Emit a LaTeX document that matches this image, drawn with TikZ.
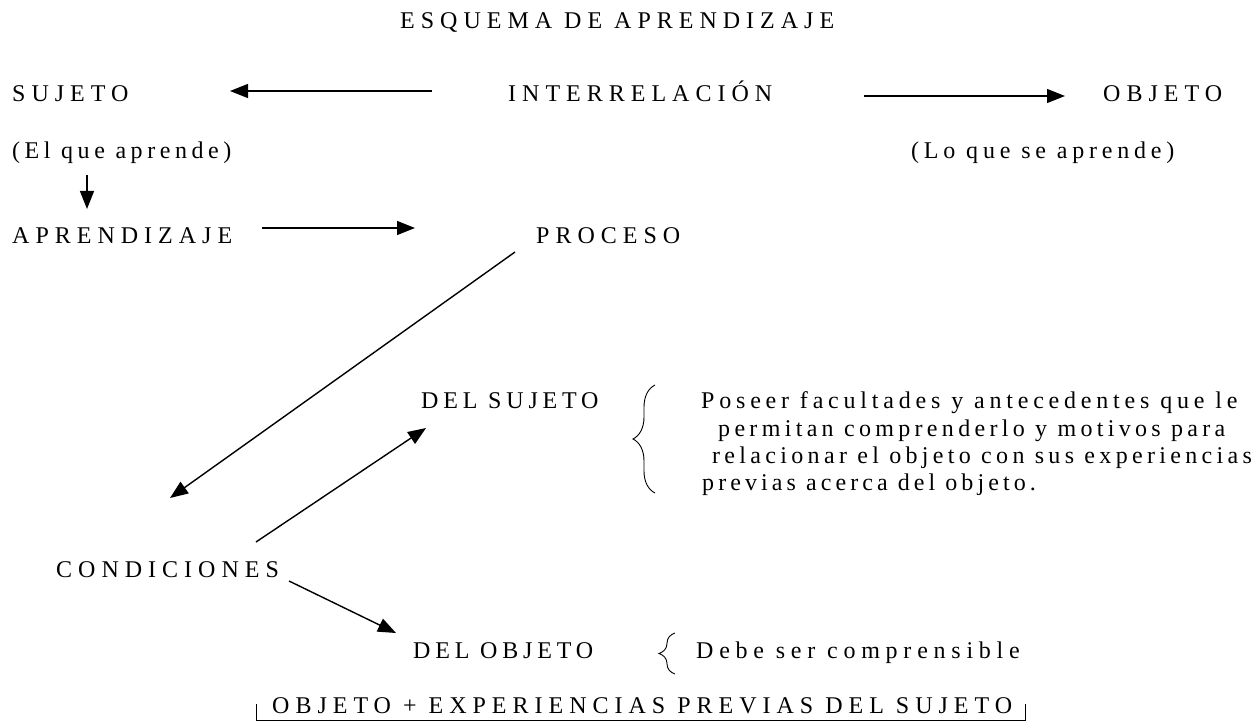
\documentclass[tikz,border=0pt]{standalone}
\usepackage{fontspec}
\setmainfont{Liberation Serif}
\usetikzlibrary{arrows.meta,decorations.pathreplacing}

\begin{document}
\begin{tikzpicture}[x=1pt,y=-1pt,
  etiq/.style={inner sep=0pt, anchor=base west, font=\fontsize{24}{28}\selectfont\addfontfeature{LetterSpace=#1}},
  etiq/.default=25,
  flecha/.style={line width=1.4pt, -{Triangle[length=18pt,width=14pt]}},
  llave/.style={decorate, decoration={brace, amplitude=#1}, line width=0.9pt}]
  \fill[white] (0,0) rectangle (1260,722);
  \useasboundingbox (0,0) rectangle (1260,722);
  % textos (posiciones absolutas, linea base)
  \node[etiq] (titulo) at (400,29) {ESQUEMA DE APRENDIZAJE};
  \node[etiq] (sujeto) at (12,102) {SUJETO};
  \node[etiq] (inter) at (508,102) {INTERRELACIÓN};
  \node[etiq] (objeto) at (1103,102) {OBJETO};
  \node[etiq=19] (elque) at (12,159) {(El que aprende)};
  \node[etiq=20] (loque) at (911,159) {(Lo que se aprende)};
  \node[etiq] (aprend) at (12,243) {APRENDIZAJE};
  \node[etiq] (proceso) at (536,243) {PROCESO};
  \node[etiq=20] (delsuj) at (421,408) {DEL SUJETO};
  \node[etiq=20] (p1) at (701,408) {Poseer facultades y antecedentes que le};
  \node[etiq=18] (p2) at (718,436) {permitan comprenderlo y motivos para};
  \node[etiq=18] (p3) at (712,463) {relacionar el objeto con sus experiencias};
  \node[etiq=17] (p4) at (702,490) {previas acerca del objeto.};
  \node[etiq] (condic) at (56,577) {CONDICIONES};
  \node[etiq=20] (delobj) at (413,658) {DEL OBJETO};
  \node[etiq=24] (debe) at (696,658) {Debe ser comprensible};
  \node[etiq] (suma) at (272,713) {OBJETO + EXPERIENCIAS PREVIAS DEL SUJETO};
  % flechas: shift relativo a la linea base de cada texto
  \draw[flecha] ([shift={(-76,-11)}]inter.base west) -- ([shift={(218,-11)}]sujeto.base west);
  \draw[flecha] ([shift={(356,-6)}]inter.base west) -- ([shift={(-38,-6)}]objeto.base west);
  \draw[flecha] ([shift={(75,16)}]elque.base west) -- ([shift={(75,-34)}]aprend.base west);
  \draw[flecha] ([shift={(250,-15)}]aprend.base west) -- ([shift={(-121,-15)}]proceso.base west);
  \draw[flecha] ([shift={(-21,9)}]proceso.base west) -- ([shift={(114,-79)}]condic.base west);
  \draw[flecha] ([shift={(200,-35)}]condic.base west) -- ([shift={(5,20)}]delsuj.base west);
  \draw[flecha] ([shift={(233,4)}]condic.base west) -- ([shift={(-17,-25)}]delobj.base west);
  % llaves
  \draw[llave=22pt] (655,493) -- (655,385);
  \draw[llave=16pt] (675,674) -- (675,633);
  % corchete inferior
  \draw[line width=1pt] (256,704) -- (256,720) -- (1025,720) -- (1025,704);
\end{tikzpicture}
\end{document}
